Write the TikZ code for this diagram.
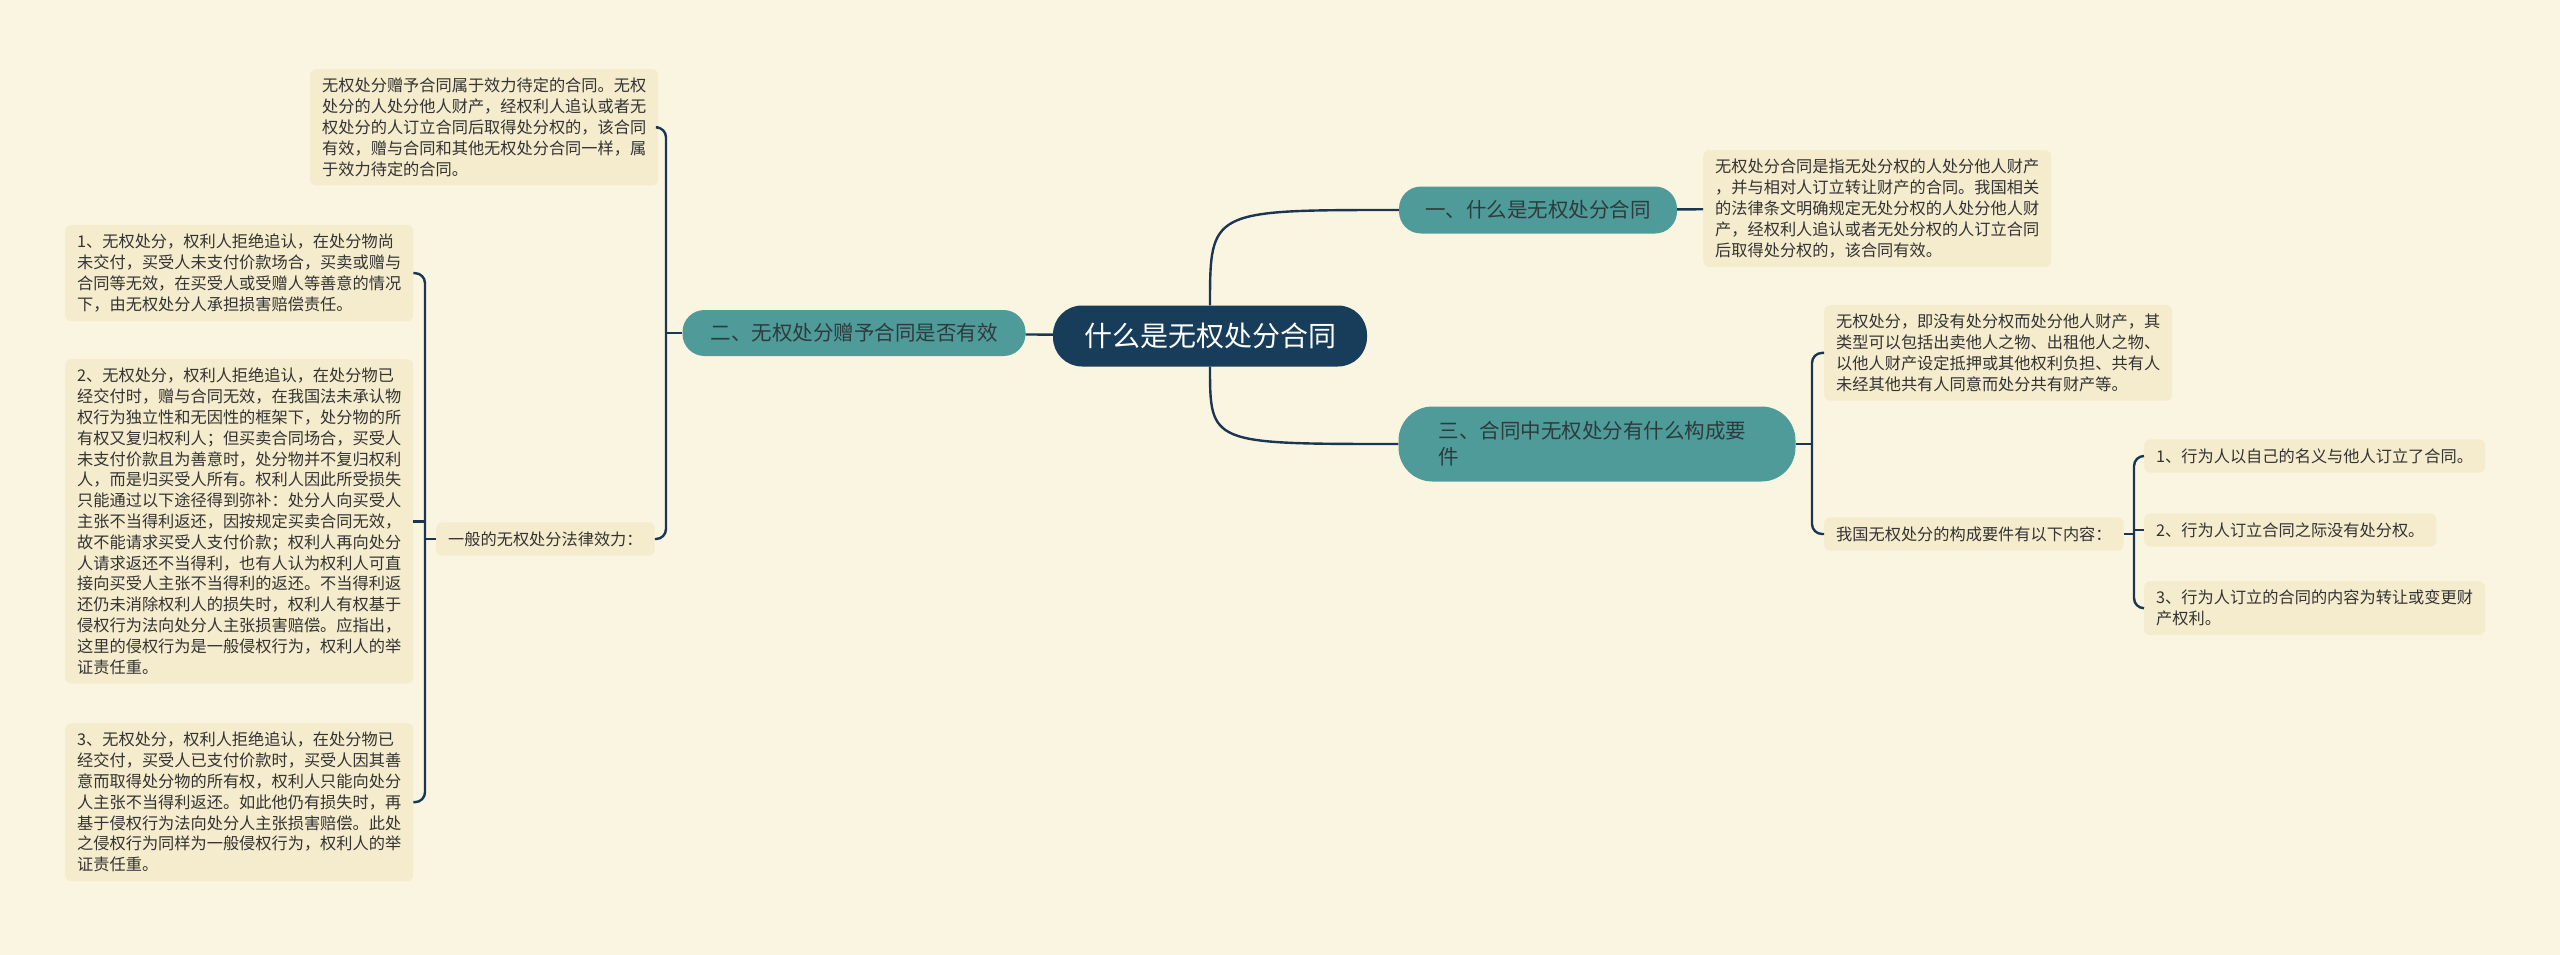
\documentclass[tikz,border=0pt]{standalone}
\usepackage{fontspec}
\setmainfont{Noto Sans CJK SC}
\definecolor{bgc}{HTML}{FAF5E1}
\definecolor{boxc}{HTML}{F4ECCD}
\definecolor{tealc}{HTML}{4E9B9A}
\definecolor{rootc}{HTML}{173D5B}
\definecolor{linec}{HTML}{1B3652}
\definecolor{textc}{HTML}{333333}
\definecolor{btext}{HTML}{2E3B3D}
\begin{document}
\begin{tikzpicture}[x=1pt,y=-1pt,
  conn/.style={draw=linec, line width=2.4pt},
  txt/.style={fill=boxc, rounded corners=6pt, inner xsep=12pt, inner ysep=9pt, align=left, text=textc, font=\fontsize{16.2}{20.8}\selectfont, anchor=north west},
  branch/.style={fill=tealc, text=btext, font=\fontsize{20.5}{26}\selectfont, inner sep=0pt},
]
\useasboundingbox (0,0) rectangle (2560,955);
\fill[bgc] (0,0) rectangle (2560,955);

% root and branches
\node[fill=rootc, text=white, font=\fontsize{28}{34}\selectfont, rounded corners=29pt, minimum width=314pt, minimum height=61pt, inner sep=0pt] (C) at (1210,336) {什么是无权处分合同};
\node[branch, rounded corners=22pt, minimum width=343pt, minimum height=46pt] (B2) at (854,333) {二、无权处分赠予合同是否有效};
\node[branch, rounded corners=22pt, minimum width=278pt, minimum height=47pt] (B1) at (1538,210) {一、什么是无权处分合同};
\node[branch, rounded corners=34pt, minimum width=397pt, minimum height=75pt, align=left, text width=317pt] (B3) at (1597,444) {三、合同中无权处分有什么构成要\\件};

% left side
\node[txt] (TL) at (310,69) {无权处分赠予合同属于效力待定的合同。无权\\处分的人处分他人财产，经权利人追认或者无\\权处分的人订立合同后取得处分权的，该合同\\有效，赠与合同和其他无权处分合同一样，属\\于效力待定的合同。};
\node[txt, anchor=west] (G) at (436,539) {一般的无权处分法律效力：};
\node[txt] (L1) at (65,225) {1、无权处分，权利人拒绝追认，在处分物尚\\未交付，买受人未支付价款场合，买卖或赠与\\合同等无效，在买受人或受赠人等善意的情况\\下，由无权处分人承担损害赔偿责任。};
\node[txt] (L2) at (65,359) {2、无权处分，权利人拒绝追认，在处分物已\\经交付时，赠与合同无效，在我国法未承认物\\权行为独立性和无因性的框架下，处分物的所\\有权又复归权利人；但买卖合同场合，买受人\\未支付价款且为善意时，处分物并不复归权利\\人，而是归买受人所有。权利人因此所受损失\\只能通过以下途径得到弥补：处分人向买受人\\主张不当得利返还，因按规定买卖合同无效，\\故不能请求买受人支付价款；权利人再向处分\\人请求返还不当得利，也有人认为权利人可直\\接向买受人主张不当得利的返还。不当得利返\\还仍未消除权利人的损失时，权利人有权基于\\侵权行为法向处分人主张损害赔偿。应指出，\\这里的侵权行为是一般侵权行为，权利人的举\\证责任重。};
\node[txt] (L3) at (65,723) {3、无权处分，权利人拒绝追认，在处分物已\\经交付，买受人已支付价款时，买受人因其善\\意而取得处分物的所有权，权利人只能向处分\\人主张不当得利返还。如此他仍有损失时，再\\基于侵权行为法向处分人主张损害赔偿。此处\\之侵权行为同样为一般侵权行为，权利人的举\\证责任重。};

% right side
\node[txt] (RT) at (1703,150) {无权处分合同是指无处分权的人处分他人财产\\，并与相对人订立转让财产的合同。我国相关\\的法律条文明确规定无处分权的人处分他人财\\产，经权利人追认或者无处分权的人订立合同\\后取得处分权的，该合同有效。};
\node[txt] (RM) at (1824,305) {无权处分，即没有处分权而处分他人财产，其\\类型可以包括出卖他人之物、出租他人之物、\\以他人财产设定抵押或其他权利负担、共有人\\未经其他共有人同意而处分共有财产等。};
\node[txt, anchor=west] (K) at (1824,534) {我国无权处分的构成要件有以下内容：};
\node[txt, anchor=west] (R1) at (2144,456) {1、行为人以自己的名义与他人订立了合同。};
\node[txt, anchor=west] (R2) at (2144,530) {2、行为人订立合同之际没有处分权。};
\node[txt] (R3) at (2144,581) {3、行为人订立的合同的内容为转让或变更财\\产权利。};

% connectors
\draw[conn] (C) -- (B2);
\draw[conn] (C.north) .. controls (C.north |- B1) .. (B1.west);
\draw[conn] (C.south) .. controls (C.south |- B3) .. (B3.west);
\draw[conn] (B1) -- (RT);

\coordinate (jL) at (666,333);
\draw[conn] (B2.west) -- (jL);
\draw[conn, rounded corners=10pt] (TL.east) -| (jL) |- (G.east);

\coordinate (jG) at (425,539);
\draw[conn] (G.west) -- (jG);
\draw[conn, rounded corners=10pt] (L1.east) -| (jG) |- (L3.east);
\draw[conn] (jG |- L2.east) -- (L2.east);

\coordinate (jR) at (1812,444);
\draw[conn] (B3.east) -- (jR);
\draw[conn, rounded corners=10pt] (RM.west) -| (jR) |- (K.west);

\coordinate (jK) at (2134,534);
\draw[conn] (K.east) -- (jK);
\draw[conn, rounded corners=10pt] (R1.west) -| (jK) |- (R3.west);
\draw[conn] (jK |- R2.west) -- (R2.west);
\end{tikzpicture}
\end{document}
